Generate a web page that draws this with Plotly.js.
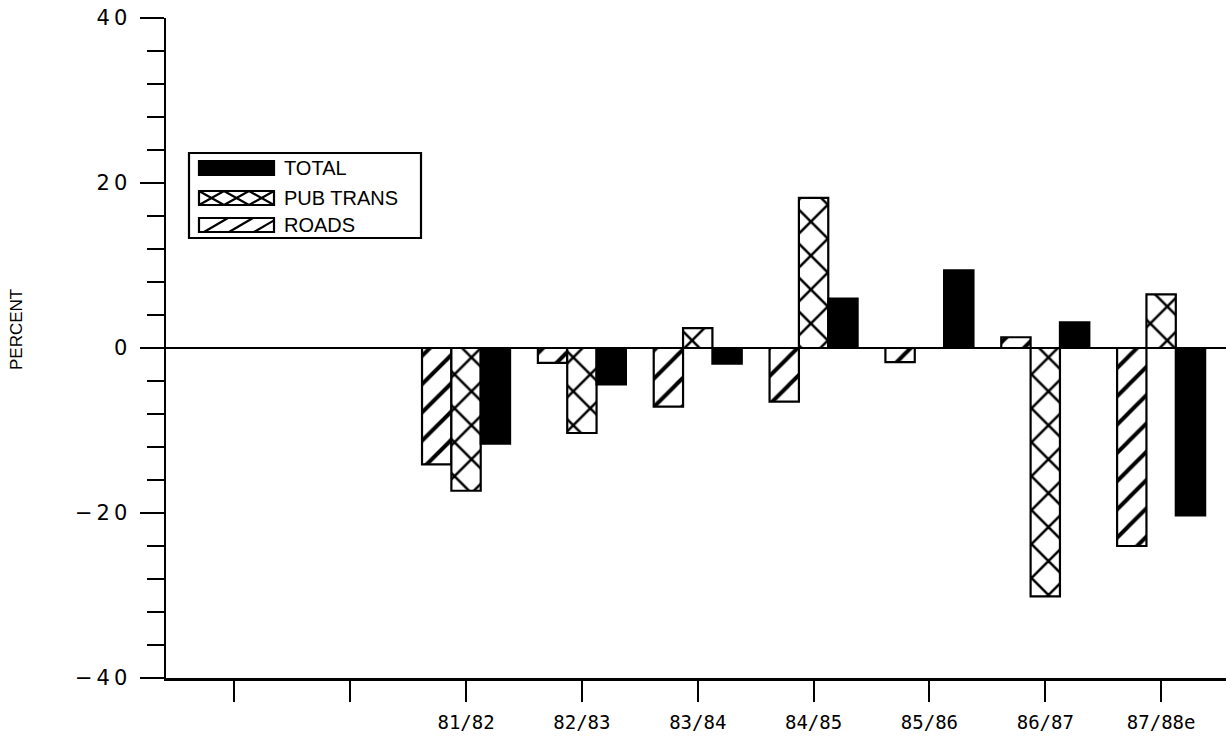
<!DOCTYPE html>
<html>
<head>
<meta charset="utf-8">
<script src="https://cdn.plot.ly/plotly-3.0.1.min.js"></script>
<style>
  html, body { margin: 0; padding: 0; background: #fff; }
  #chart { width: 1226px; height: 755px; }
  #chart .ytick text { letter-spacing: 4px; }
</style>
</head>
<body>
<div id="chart"></div>
<script>
// ---- data ----
const periods   = ['', '', '81/82', '82/83', '83/84', '84/85', '85/86', '86/87', '87/88e'];
const roads     = [null, null, -14.1, -1.8, -7.1, -6.5, -1.7, 1.3, -24.0];
const pubTrans  = [null, null, -17.3, -10.3, 2.4, 18.2, 0, -30.1, 6.5];
const total     = [null, null, -11.6, -4.4, -1.9, 6.0, 9.4, 3.1, -20.3];
const seriesNames = ['TOTAL', 'PUB TRANS', 'ROADS'];
const yTicks = [-40, -20, 0, 20, 40];
const yTitle = 'PERCENT';

// ---- layout geometry ----
const W = 1226, H = 755, L = 166, R = 0, T = 18, B = 77;
const PX = p => (p - L) / (W - L - R);
const PY = p => (H - B - p) / (H - T - B);
const xs = periods.map((_, i) => i);

const lineStyle = { color: 'black', width: 2.2 };
const traces = [
  { type: 'bar', name: seriesNames[2], x: xs, y: roads,
    marker: { color: 'white', line: lineStyle,
      pattern: { shape: '/', fgcolor: 'black', bgcolor: 'white', size: 20, solidity: 0.2 } } },
  { type: 'bar', name: seriesNames[1], x: xs, y: pubTrans,
    marker: { color: 'white', line: lineStyle,
      pattern: { shape: 'x', fgcolor: 'black', bgcolor: 'white', size: 24, solidity: 0.2 } } },
  { type: 'bar', name: seriesNames[0], x: xs, y: total,
    marker: { color: 'black', line: lineStyle } }
];
traces.forEach(t => { t.showlegend = false; t.hoverinfo = 'skip'; });

// ---- hand-built legend (wide swatches like the original) ----
const shapes = [];
const rectP = (x0, y0, x1, y1, fill) => ({
  type: 'rect', xref: 'paper', yref: 'paper',
  x0: PX(x0), x1: PX(x1), y0: PY(y1), y1: PY(y0),
  line: { color: 'black', width: 2.2 }, fillcolor: fill
});
shapes.push(rectP(189, 153, 421, 238, 'white'));
shapes.push(rectP(199, 161, 274, 175, 'black'));
shapes.push(rectP(199, 191, 274, 205, 'white'));
shapes.push(rectP(199, 218, 274, 232, 'white'));
let pth = '';
for (let k = 0; k < 3; k++) {
  const a = 199 + 25 * k, b = a + 25;
  pth += `M${PX(a)},${PY(191)}L${PX(b)},${PY(205)}M${PX(a)},${PY(205)}L${PX(b)},${PY(191)}`;
}
shapes.push({ type: 'path', xref: 'paper', yref: 'paper', path: pth, line: { color: 'black', width: 2.2 } });
let pth2 = '';
for (let k = 0; k < 3; k++) {
  const a = 204 + 25 * k;
  pth2 += `M${PX(a)},${PY(232)}L${PX(Math.min(a + 24, 274))},${PY(218 + (a + 24 > 274 ? (a + 24 - 274) * 14 / 24 : 0))}`;
}
shapes.push({ type: 'path', xref: 'paper', yref: 'paper', path: pth2, line: { color: 'black', width: 2.2 } });

const legFont = { family: 'Liberation Sans, Arial, sans-serif', size: 20, color: 'black' };
const legY = [168, 198, 225];
const annotations = seriesNames.map((n, i) => ({
  xref: 'paper', yref: 'paper', x: PX(282), y: PY(legY[i]),
  xanchor: 'left', yanchor: 'middle', showarrow: false, text: n, font: legFont
}));
annotations.push({
  xref: 'paper', yref: 'paper', x: PX(16), y: PY(330), textangle: -90,
  xanchor: 'center', yanchor: 'middle', showarrow: false, text: yTitle,
  font: { family: 'Liberation Sans, Arial, sans-serif', size: 17, color: 'black' }
});

const layout = {
  width: W, height: H,
  margin: { l: L, r: R, t: T, b: B, pad: 0 },
  paper_bgcolor: 'white', plot_bgcolor: 'white',
  barmode: 'group', bargap: 0.24, bargroupgap: 0,
  showlegend: false,
  xaxis: {
    range: [-0.59, 8.56], tickvals: xs, ticktext: periods,
    showgrid: false, zeroline: false,
    showline: true, linecolor: 'black', linewidth: 2.5,
    ticks: 'outside', ticklen: 21, tickwidth: 2, tickcolor: 'black',
    ticklabelstandoff: 5,
    tickfont: { family: 'DejaVu Sans Mono, monospace', size: 19, color: 'black' }
  },
  yaxis: {
    range: [-40, 40], tickvals: yTicks,
    showgrid: false,
    zeroline: true, zerolinecolor: 'black', zerolinewidth: 2,
    showline: true, linecolor: 'black', linewidth: 2.5,
    ticks: 'outside', ticklen: 24, tickwidth: 2, tickcolor: 'black',
    ticklabelstandoff: 4,
    minor: { dtick: 4, tick0: 0, ticks: 'outside', ticklen: 17, tickwidth: 2, tickcolor: 'black', showgrid: false },
    tickfont: { family: 'DejaVu Sans, sans-serif', size: 21, color: 'black' }
  },
  shapes: shapes,
  annotations: annotations
};

Plotly.newPlot('chart', traces, layout, { staticPlot: true, displayModeBar: false });
</script>
</body>
</html>
